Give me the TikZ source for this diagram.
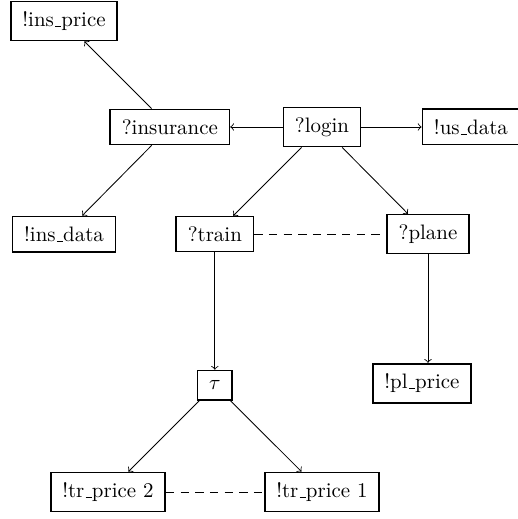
\documentclass[tikz,border=0pt]{standalone}
\usetikzlibrary{positioning}
\newcommand{\usc}{\leavevmode\kern.06em\vbox{\hrule width.3em}}

\begin{document}
\begin{tikzpicture}[->,>=to,auto,on grid,node distance=51.2pt,thin,main node/.style={rectangle,draw,thick,inner xsep=5.5pt,inner ysep=4.8pt,font=\normalsize}]

            \useasboundingbox (-153.9pt,-187.4pt) rectangle (93.7pt,60.7pt);

            \node[main node] (login) {?login};
            \node[main node] (insurance) [left=72.7pt of login] {?insurance};
            \node[main node] (usdata) [right=71.2pt of login] {!us\usc data};
            \node[main node] (insprice) [above left=50.7pt and 50.6pt of insurance] {!ins\usc price};
            \node[main node] (insdata) [below left=51.2pt and 50.6pt of insurance] {!ins\usc data};
            \node[main node] (train) [below left=51.2pt and 51.2pt of login] {?train};
            \node[main node] (plane) [below right=51.2pt and 50.7pt of login] {?plane};
            \node[main node] (tau) [below=72.2pt of train] {$\tau$};
            \node[main node] (plprice) [below left=71.3pt and 2.9pt of plane] {!pl\usc price};
            \node[main node] (trprice2) [below left=51.1pt and 51.1pt of tau] {!tr\usc price 2};
            \node[main node] (trprice1) [below right=51.1pt and 51.2pt of tau] {!tr\usc price 1};

            \draw (insurance) to (insprice);
            \draw (insurance) to (insdata);
            \draw (login) to (insurance);
            \draw (login) to (usdata);
            \draw (login) to (train);
            \draw (login) to (plane);
            % \draw (train) to (plane);
            \draw[-,dashed,dash pattern=on 4pt off 3pt] (train) to (plane);
            \draw (train) to (tau);
            \draw (plane.south) to (plane.south |- plprice.north);
            \draw (tau) to (trprice2);
            \draw (tau) to (trprice1);
            \draw[-,dashed,dash pattern=on 4pt off 3pt] (trprice2) to (trprice1);

        \end{tikzpicture}
\end{document}
